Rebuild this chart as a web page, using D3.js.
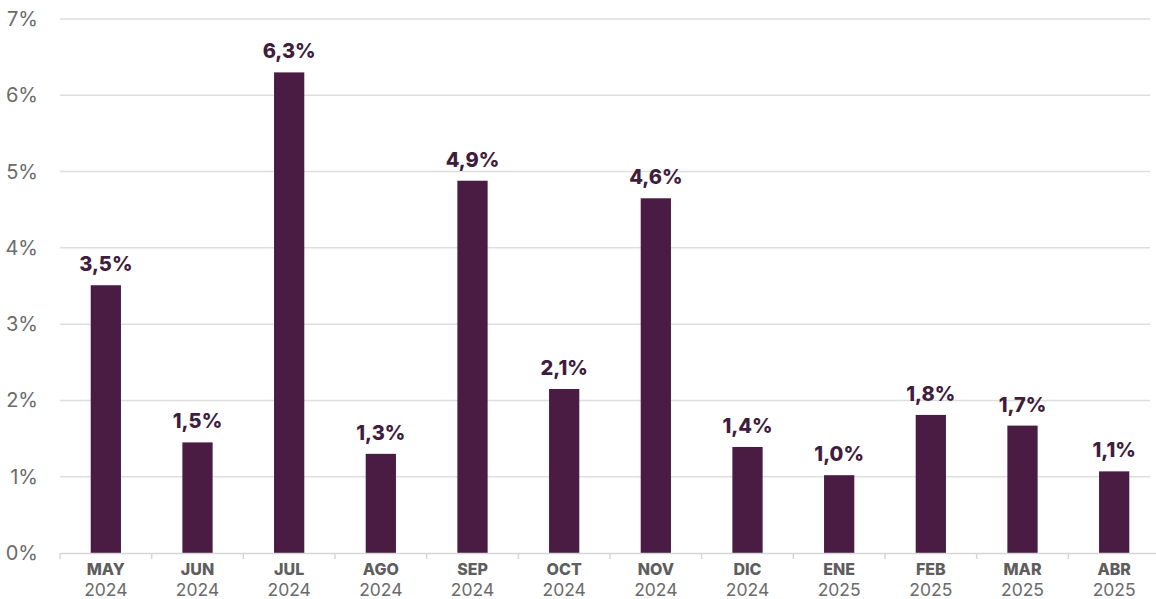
<!DOCTYPE html>
<html lang="es">
<head>
<meta charset="UTF-8">
<title>Variación mensual</title>
<script src="https://d3js.org/d3.v7.min.js"></script>
<style>
    body, html { margin: 0; background: #fff; overflow: hidden; }
    text { font-family: Inter, "Open Sans", sans-serif; }
</style>
</head>
<body>
<div id="chart"></div>
<script>
    // datos
    var months = ["MAY", "JUN", "JUL", "AGO", "SEP", "OCT", "NOV", "DIC", "ENE", "FEB", "MAR", "ABR"];
    var years = ["2024", "2024", "2024", "2024", "2024", "2024", "2024", "2024", "2025", "2025", "2025", "2025"];
    var values = [3.51, 1.45, 6.3, 1.3, 4.88, 2.15, 4.65, 1.39, 1.02, 1.81, 1.67, 1.07];
    var valueLabels = ["3,5%", "1,5%", "6,3%", "1,3%", "4,9%", "2,1%", "4,6%", "1,4%", "1,0%", "1,8%", "1,7%", "1,1%"];
    var yTicks = [0, 1, 2, 3, 4, 5, 6, 7];

    var width = 1156, height = 599;
    var margin = { top: 19, right: -4, bottom: 46, left: 60 };

    var svg = d3.select("#chart").append("svg")
        .attr("width", width)
        .attr("height", height);

    var x = d3.scaleBand()
        .domain(months)
        .range([margin.left, width - margin.right])
        .paddingInner(0.67)
        .paddingOuter(0.335);

    var y = d3.scaleLinear()
        .domain([0, 7])
        .range([height - margin.bottom, margin.top]);

    // lineas de cuadricula
    svg.append("g")
        .selectAll("line")
        .data(yTicks.filter(d => d > 0))
        .join("line")
        .attr("x1", margin.left)
        .attr("x2", 1150)
        .attr("y1", d => y(d))
        .attr("y2", d => y(d))
        .attr("stroke", "#dedede")
        .attr("stroke-width", 1.5);

    // eje y
    svg.append("g")
        .selectAll("text")
        .data(yTicks)
        .join("text")
        .attr("x", 38)
        .attr("y", d => y(d))
        .attr("dy", "0.35em")
        .attr("text-anchor", "end")
        .attr("font-size", 20)
        .attr("fill", "#6b6b6b")
        .text(d => d + "%");

    // barras
    svg.append("g")
        .selectAll("rect")
        .data(values)
        .join("rect")
        .attr("x", (d, i) => x(months[i]))
        .attr("y", d => y(d))
        .attr("width", x.bandwidth())
        .attr("height", d => y(0) - y(d))
        .attr("fill", "#4a1b43");

    // eje x
    var xAxis = svg.append("g")
        .attr("transform", `translate(0,${y(0)})`)
        .call(d3.axisBottom(x).tickSize(0).tickFormat(""));
    xAxis.select(".domain").attr("stroke", "#d6d6d6").attr("stroke-width", 1.5);

    var step = x.step();
    var boundaries = d3.range(months.length + 1).map(i => margin.left + i * step);
    svg.append("g")
        .selectAll("line")
        .data(boundaries)
        .join("line")
        .attr("x1", d => d)
        .attr("x2", d => d)
        .attr("y1", y(0))
        .attr("y2", y(0) + 6)
        .attr("stroke", "#d6d6d6")
        .attr("stroke-width", 1.5);

    var labels = svg.append("g")
        .selectAll("g")
        .data(months)
        .join("g")
        .attr("transform", d => `translate(${x(d) + x.bandwidth() / 2},0)`);

    labels.append("text")
        .attr("y", 575)
        .attr("text-anchor", "middle")
        .attr("font-size", 16)
        .attr("font-weight", 800)
        .attr("fill", "#5e5e5e")
        .text(d => d);

    labels.append("text")
        .attr("y", 596)
        .attr("text-anchor", "middle")
        .attr("font-size", 17.5)
        .attr("fill", "#6b6b6b")
        .text((d, i) => years[i]);

    // etiquetas de valor
    svg.append("g")
        .selectAll("text")
        .data(values)
        .join("text")
        .attr("x", (d, i) => x(months[i]) + x.bandwidth() / 2)
        .attr("y", d => y(d) - 14)
        .attr("text-anchor", "middle")
        .attr("font-size", 20)
        .attr("font-weight", 800)
        .attr("fill", "#3f1d3c")
        .text((d, i) => valueLabels[i]);
</script>
</body>
</html>
